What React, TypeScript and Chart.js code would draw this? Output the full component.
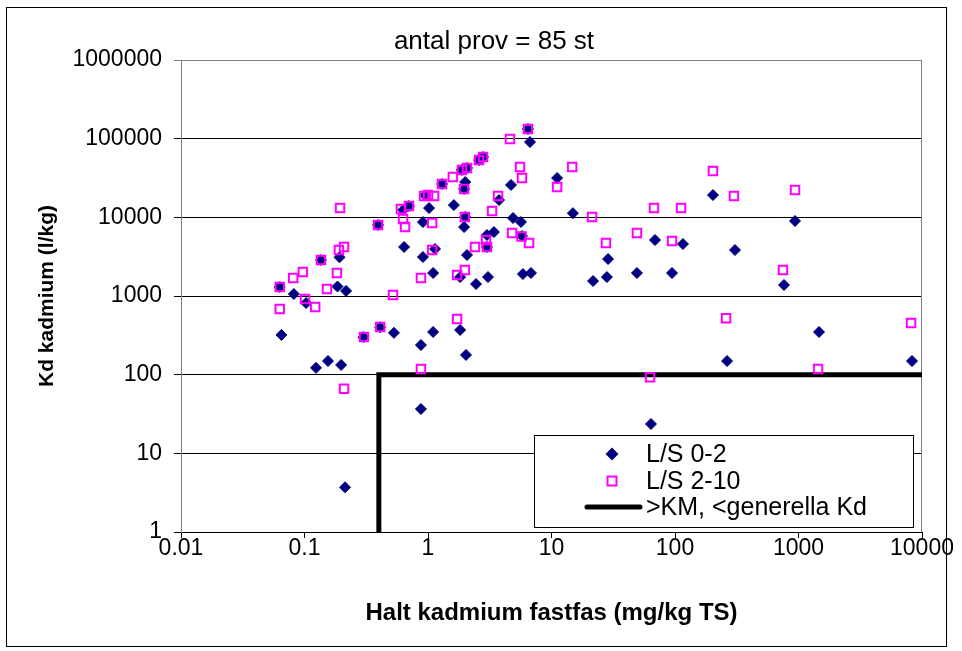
import React, { useEffect, useRef } from "react";
import { Chart, registerables } from "chart.js";

Chart.register(...registerables);

const TITLE = "antal prov = 85 st";
const X_TITLE = "Halt kadmium fastfas (mg/kg TS)";
const Y_TITLE = "Kd kadmium (l/kg)";

const xTicks = [0.01, 0.1, 1, 10, 100, 1000, 10000];
const yTicks = [1, 10, 100, 1000, 10000, 100000, 1000000];

const seriesNames = ["L/S 0-2", "L/S 2-10", ">KM, <generella Kd"];

// L/S 0-2 : [halt (mg/kg TS), Kd (l/kg)]
const ls02: [number, number][] = [
  [0.063, 1300], [0.065, 320], [0.082, 1060], [0.103, 815], [0.124, 122],
  [0.136, 2870], [0.155, 149], [0.185, 1320], [0.217, 1160], [0.192, 3100],
  [0.198, 133], [0.213, 3.7], [0.3, 300], [0.394, 8000], [0.41, 400],
  [0.53, 340], [0.63, 12400], [0.64, 4200], [0.7, 13900], [0.877, 238],
  [0.877, 36.6], [0.91, 8700], [0.91, 3130], [0.95, 19000], [1.02, 13100],
  [1.1, 1960], [1.1, 349], [1.14, 3960], [1.3, 26500], [1.62, 14300],
  [1.82, 1740], [1.82, 370], [1.88, 40000], [2.07, 42400], [2.0, 28100],
  [1.96, 22900], [2.0, 10100], [1.96, 7530], [2.07, 3320], [2.03, 178],
  [2.45, 1420], [2.59, 53500], [2.79, 58400], [3.0, 5960], [3.0, 4200],
  [3.06, 1740], [3.42, 6500], [3.76, 16600], [4.7, 25800], [4.88, 9800],
  [5.66, 8720], [5.77, 5790], [5.87, 1900], [6.45, 132700], [6.7, 90600],
  [6.82, 1960], [11.1, 31600], [14.9, 11300], [21.7, 1550], [28.1, 1740],
  [28.7, 2950], [49.2, 1960], [63.9, 23.6], [68.9, 5150], [94.6, 1960],
  [116, 4580], [203, 19200], [264, 149], [306, 3840], [763, 1380],
  [937, 8980], [1466, 349], [8300, 149],
];

// L/S 2-10 : [halt (mg/kg TS), Kd (l/kg)]
const ls210: [number, number][] = [
  [0.063, 1300], [0.063, 684], [0.081, 1690], [0.097, 2020], [0.101, 916],
  [0.122, 724], [0.136, 2870], [0.152, 1230], [0.183, 1960], [0.19, 3840],
  [0.209, 4200], [0.194, 13100], [0.209, 66], [0.303, 301], [0.394, 8000],
  [0.41, 403], [0.521, 1030], [0.604, 12800], [0.628, 9520], [0.652, 7530],
  [0.702, 13900], [0.877, 1690], [0.877, 118], [0.93, 18700], [1.0, 19200],
  [1.12, 18700], [1.08, 8470], [1.08, 3840], [1.3, 26500], [1.59, 32600],
  [1.72, 1850], [1.72, 510], [1.88, 40000], [2.07, 42400], [1.96, 22900],
  [1.99, 10100], [1.99, 2140], [2.4, 4200], [2.59, 53500], [2.79, 58400],
  [2.95, 5150], [3.0, 4200], [3.3, 12000], [3.69, 18700], [4.61, 99000],
  [4.79, 6320], [5.56, 43600], [5.77, 31600], [5.72, 5700], [6.58, 4720],
  [6.45, 132700], [11.1, 24300], [14.7, 43600], [21.3, 10100], [27.6, 4720],
  [49.2, 6320], [62.8, 93], [67.6, 13100], [94.6, 5000], [112, 13100],
  [203, 38800], [259, 520], [300, 18700], [748, 2140], [937, 22200],
  [1440, 118], [8150, 454],
];

// >KM, <generella Kd
const kmLine: [number, number][] = [
  [0.4, 1], [0.4, 100], [10000, 100],
];

const FONT = "'Liberation Sans', Arial, Helvetica, sans-serif";
const NAVY = "#000080";
const MAGENTA = "#FF00FF";

const toPts = (arr: [number, number][]) => arr.map(([x, y]) => ({ x, y }));

export default function App() {
  const ref = useRef<HTMLCanvasElement | null>(null);

  useEffect(() => {
    const canvas = ref.current;
    if (!canvas) return;

    const decor = {
      id: "decor",
      beforeDraw(chart: any) {
        const { ctx, width, height } = chart;
        ctx.save();
        ctx.fillStyle = "#ffffff";
        ctx.fillRect(0, 0, width, height);
        ctx.restore();
      },
      beforeDatasetsDraw(chart: any) {
        const { ctx, chartArea: a } = chart;
        ctx.save();
        ctx.strokeStyle = "#808080";
        ctx.lineWidth = 1;
        const rx = Math.round(a.right) - 0.5;
        ctx.beginPath();
        ctx.moveTo(rx, a.top);
        ctx.lineTo(rx, a.bottom);
        ctx.stroke();
        ctx.restore();
      },
      afterDraw(chart: any) {
        const { ctx } = chart;
        ctx.save();
        // outer frame
        ctx.strokeStyle = "#000000";
        ctx.lineWidth = 1;
        ctx.strokeRect(6.5, 7.5, 940, 639);
        // title
        ctx.fillStyle = "#000000";
        ctx.font = `26px ${FONT}`;
        ctx.textAlign = "center";
        ctx.textBaseline = "middle";
        ctx.fillText(TITLE, 494, 42);

        // legend
        const lx = 534, ly = 435, lw = 379, lh = 92;
        ctx.fillStyle = "#ffffff";
        ctx.fillRect(lx, ly, lw, lh);
        ctx.strokeStyle = "#000000";
        ctx.lineWidth = 1;
        ctx.strokeRect(lx + 0.5, ly + 0.5, lw, lh);
        const rows = [454, 481, 507];
        const mx = 612;
        // diamond
        ctx.fillStyle = NAVY;
        ctx.beginPath();
        ctx.moveTo(mx, rows[0] - 6.5);
        ctx.lineTo(mx + 6.5, rows[0]);
        ctx.lineTo(mx, rows[0] + 6.5);
        ctx.lineTo(mx - 6.5, rows[0]);
        ctx.closePath();
        ctx.fill();
        // square
        ctx.strokeStyle = MAGENTA;
        ctx.lineWidth = 2;
        ctx.strokeRect(mx - 4.5, rows[1] - 4.5, 9, 9);
        // line
        ctx.strokeStyle = "#000000";
        ctx.lineWidth = 5;
        ctx.lineCap = "round";
        ctx.beginPath();
        ctx.moveTo(587, rows[2]);
        ctx.lineTo(640, rows[2]);
        ctx.stroke();
        // texts
        ctx.fillStyle = "#000000";
        ctx.font = `25px ${FONT}`;
        ctx.textAlign = "left";
        ctx.textBaseline = "middle";
        seriesNames.forEach((n, i) => ctx.fillText(n, 646, rows[i] + 1));
        ctx.restore();
      },
    };

    const chart = new Chart(canvas, {
      type: "scatter",
      data: {
        datasets: [
          {
            label: seriesNames[0],
            data: toPts(ls02),
            pointStyle: "rectRot",
            pointRadius: 5.5,
            pointHoverRadius: 5.5,
            backgroundColor: NAVY,
            borderColor: NAVY,
            borderWidth: 1,
            order: 2,
          },
          {
            label: seriesNames[1],
            data: toPts(ls210),
            pointStyle: "rect",
            pointRadius: 6,
            pointHoverRadius: 6,
            backgroundColor: "rgba(0,0,0,0)",
            borderColor: MAGENTA,
            borderWidth: 2,
            order: 1,
          },
          {
            label: seriesNames[2],
            data: toPts(kmLine),
            showLine: true,
            pointRadius: 0,
            borderColor: "#000000",
            backgroundColor: "#000000",
            borderWidth: 5,
            order: 3,
          } as any,
        ],
      },
      options: {
        animation: false,
        responsive: false,
        devicePixelRatio: 1,
        layout: { padding: { left: 0, top: 60, right: 40, bottom: 0 } },
        plugins: {
          legend: { display: false },
          title: { display: false },
          tooltip: { enabled: false },
        },
        scales: {
          x: {
            type: "logarithmic",
            min: 0.01,
            max: 10000,
            afterBuildTicks: (s: any) => {
              s.ticks = xTicks.map((v) => ({ value: v }));
            },
            afterFit: (s: any) => {
              s.height = 119;
            },
            ticks: {
              autoSkip: false,
              maxRotation: 0,
              minRotation: 0,
              padding: -1,
              color: "#000000",
              font: { family: FONT, size: 23, lineHeight: 1 },
              callback: (v: any) => String(v),
            },
            grid: {
              display: true,
              drawOnChartArea: false,
              drawTicks: true,
              tickLength: 6,
              color: "#000000",
            },
            border: { display: true, color: "#000000", width: 1 },
            title: {
              display: true,
              text: X_TITLE,
              color: "#000000",
              font: { family: FONT, size: 24, weight: "bold", lineHeight: 1.2 },
              padding: { top: 0, bottom: 23.6 },
            },
          },
          y: {
            type: "logarithmic",
            min: 1,
            max: 1000000,
            afterBuildTicks: (s: any) => {
              s.ticks = yTicks.map((v) => ({ value: v }));
            },
            afterFit: (s: any) => {
              s.width = 181;
            },
            ticks: {
              autoSkip: false,
              padding: 12,
              color: "#000000",
              font: { family: FONT, size: 23, lineHeight: 1 },
              callback: (v: any) => String(v),
            },
            grid: {
              display: true,
              drawOnChartArea: true,
              drawTicks: true,
              tickLength: 7,
              color: (c: any) =>
                c.tick && c.tick.value === 1000000 ? "#808080" : "#000000",
            },
            border: { display: true, color: "#808080", width: 1 },
            title: {
              display: true,
              text: Y_TITLE,
              color: "#000000",
              font: { family: FONT, size: 21, weight: "bold", lineHeight: 1.2 },
              padding: { top: 34.4, bottom: 0 },
            },
          },
        },
      },
      plugins: [decor],
    } as any);

    return () => {
      chart.destroy();
    };
  }, []);

  return (
    <div style={{ position: "fixed", left: 0, top: 0, width: 962, height: 651 }}>
      <canvas ref={ref} width={962} height={651} style={{ width: 962, height: 651, display: "block" }} />
    </div>
  );
}
